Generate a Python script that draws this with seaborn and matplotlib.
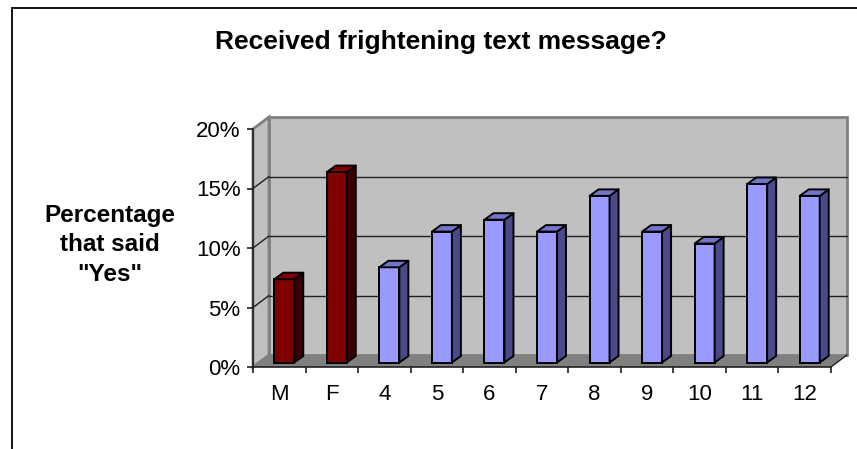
import matplotlib
matplotlib.use("Agg")
import matplotlib.pyplot as plt
from matplotlib.patches import Polygon, Rectangle
from matplotlib.lines import Line2D
import seaborn as sns
import pandas as pd

# ---- data ----
categories = ['M', 'F', '4', '5', '6', '7', '8', '9', '10', '11', '12']
values = [7, 16, 8, 11, 12, 11, 14, 11, 10, 15, 14]
groups = ['Gender', 'Gender', 'Grade', 'Grade', 'Grade', 'Grade', 'Grade',
          'Grade', 'Grade', 'Grade', 'Grade']
yticks = [0, 5, 10, 15, 20]
ytick_labels = ['0%', '5%', '10%', '15%', '20%']
title = 'Received frightening text message?'
ylabel = 'Percentage\nthat said\n"Yes"'

front_colors = {'Gender': '#800000', 'Grade': '#9999FF'}
top_colors = {'Gender': '#800000', 'Grade': '#7474CC'}
side_colors = {'Gender': '#3A0000', 'Grade': '#4A4A8A'}

df = pd.DataFrame({'cat': categories, 'val': values, 'grp': groups})

sns.set_style('white')
plt.rcParams['font.family'] = ['Liberation Sans', 'DejaVu Sans']
plt.rcParams['text.color'] = 'black'
plt.rcParams['xtick.color'] = 'black'
plt.rcParams['ytick.color'] = 'black'

W, H = 857, 449
fig = plt.figure(figsize=(W / 100, H / 100), dpi=100)
# front plane of the 3-D box in pixels
L, R, B, T = 253, 831, 367, 129
ax = fig.add_axes([L / W, 1 - B / H, (R - L) / W, (B - T) / H])
ax.set_xlim(-0.5, len(categories) - 0.5)
ax.set_ylim(0, 20)
ax.patch.set_visible(False)

kx = (len(categories)) / (R - L)   # data units per pixel (x)
ky = 20 / (B - T)                  # data units per pixel (y)

DX, DY = 16 * kx, 12 * ky          # wall depth
x0, x1 = -0.5, len(categories) - 0.5

wall_c, floor_c, edge_c = '#C0C0C0', '#808080', '#808080'
# back wall
ax.add_patch(Polygon([(x0 + DX, DY), (x1 + DX, DY), (x1 + DX, 20 + DY), (x0 + DX, 20 + DY)],
                     closed=True, facecolor=wall_c, edgecolor=edge_c, lw=2,
                     clip_on=False, zorder=0.1))
# left wall
ax.add_patch(Polygon([(x0, 0), (x0 + DX, DY), (x0 + DX, 20 + DY), (x0, 20)],
                     closed=True, facecolor=wall_c, edgecolor=edge_c, lw=2,
                     clip_on=False, zorder=0.2))
# grid lines on back and left walls
for v in yticks[1:-1]:
    ax.plot([x0 + DX, x1 + DX], [v + DY, v + DY], color='#202020', lw=1,
            clip_on=False, zorder=0.3)
    ax.plot([x0, x0 + DX], [v, v + DY], color='#202020', lw=1,
            clip_on=False, zorder=0.3)
# floor
ax.add_patch(Polygon([(x0, 0), (x1, 0), (x1 + DX, DY), (x0 + DX, DY)],
                     closed=True, facecolor=floor_c, edgecolor='none',
                     clip_on=False, zorder=0.4))
ax.plot([x1, x1 + DX], [0, DY], color='#202020', lw=1, clip_on=False, zorder=0.5)

# bars (front faces) via seaborn
sns.barplot(data=df, x='cat', y='val', hue='grp', palette=front_colors,
            dodge=False, width=0.38, legend=False, edgecolor='black',
            linewidth=1.4, saturation=1, ax=ax, zorder=3)
ax.set_xlim(-0.5, len(categories) - 0.5)
ax.set_ylim(0, 20)

bfx, bfy = 5 * kx, 4.5 * ky     # bar front offset from front plane
bdx, bdy = 9 * kx, 6.5 * ky     # bar depth
bars = [p for c in ax.containers for p in c if isinstance(p, Rectangle)]
for p in bars:
    h = p.get_height()
    if not (h == h) or h == 0:
        continue
    fc = p.get_facecolor()
    grp = 'Gender' if fc[2] < 0.3 else 'Grade'
    bx = p.get_x() + bfx
    bw = p.get_width()
    p.set_x(bx)
    p.set_y(bfy)
    p.set_clip_on(False)
    b, t = bfy, bfy + h
    ax.add_patch(Polygon([(bx + bw, b), (bx + bw, t), (bx + bw + bdx, t + bdy), (bx + bw + bdx, b + bdy)],
                         closed=True, facecolor=side_colors[grp], edgecolor='black',
                         lw=1.4, clip_on=False, zorder=3, joinstyle='round'))
    ax.add_patch(Polygon([(bx, t), (bx + bw, t), (bx + bw + bdx, t + bdy), (bx + bdx, t + bdy)],
                         closed=True, facecolor=top_colors[grp], edgecolor='black',
                         lw=1.4, clip_on=False, zorder=3, joinstyle='round'))

# axes styling
for s in ['top', 'right']:
    ax.spines[s].set_visible(False)
for s in ['left', 'bottom']:
    ax.spines[s].set_color('#202020')
    ax.spines[s].set_linewidth(1.2)
    ax.spines[s].set_zorder(2)
ax.set_yticks(yticks)
ax.set_yticklabels(ytick_labels, fontsize=16)
ax.tick_params(axis='y', direction='out', length=4.5, width=1.2, pad=4.5, color='#202020', left=True)
ax.set_xticks([i - 0.5 for i in range(len(categories) + 1)])
ax.set_xticklabels([''] * (len(categories) + 1))
ax.set_xticks(range(len(categories)), minor=True)
ax.set_xticklabels(categories, minor=True, fontsize=16)
ax.tick_params(axis='x', which='major', direction='out', length=4.5, width=1.2, color='#202020', bottom=True)
ax.tick_params(axis='x', which='minor', length=0, pad=12)
ax.set_xlabel('')
ax.set_ylabel('')

fig.text(441 / W, 1 - 42 / H, title, ha='center', va='center',
         fontsize=19, fontweight='bold')
fig.text(110 / W, 1 - 245 / H, ylabel, ha='center', va='center',
         fontsize=17.5, fontweight='bold', linespacing=1.35)

# outer frame (top and left edges)
fig.add_artist(Line2D([12 / W, 12 / W], [0, 1 - 8 / H], color='black', lw=1.3))
fig.add_artist(Line2D([12 / W, 1], [1 - 8 / H, 1 - 8 / H], color='black', lw=1.3))

fig.savefig('out.png', dpi=100)
